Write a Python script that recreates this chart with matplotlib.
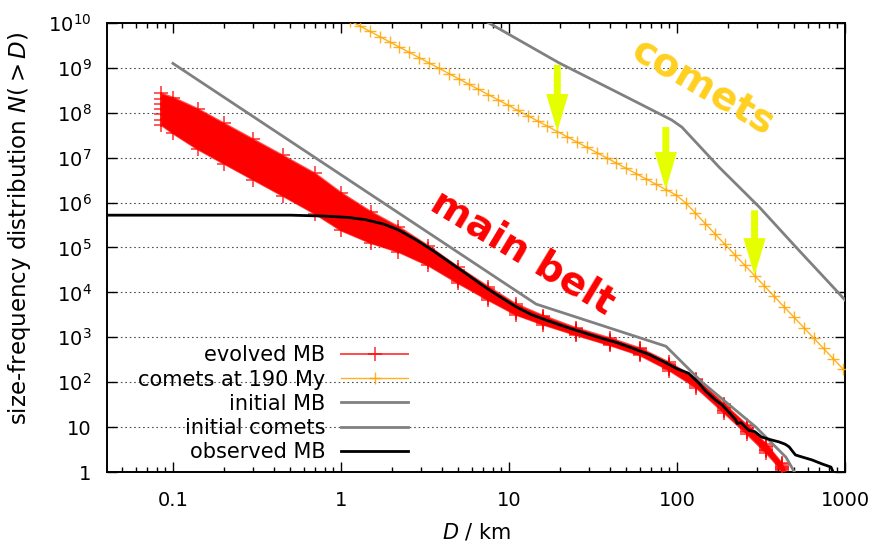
import numpy as np
import matplotlib
matplotlib.use("Agg")
import matplotlib.pyplot as plt
from matplotlib.patches import ArrowStyle

plt.rcParams['font.family'] = ['DejaVu Sans']
plt.rcParams['mathtext.fontset'] = 'dejavusans'

# ---------------- data ----------------
# evolved main belt: several simulation runs, log10 N(>D) on common D grid (km)
ev_D = [0.085, 0.1, 0.14, 0.2, 0.3, 0.45, 0.7, 1.0, 1.5, 2.2, 3.3, 5, 7.5, 11, 16,
        25, 40, 60, 90, 130, 190, 260, 340, 420, 470]
ev_run1 = [8.43, 8.34, 8.09, 7.77, 7.41, 7.05, 6.65, 6.22, 5.80, 5.46, 5.04, 4.56, 4.13, 3.74, 3.48,
           3.21, 2.98, 2.76, 2.44, 2.08, 1.52, 1.05, 0.62, 0.20, -0.22]
ev_run2 = [8.31, 8.20, 7.93, 7.61, 7.25, 6.89, 6.49, 6.07, 5.68, 5.36, 4.96, 4.50, 4.08, 3.70, 3.45,
           3.18, 2.95, 2.73, 2.41, 2.05, 1.49, 1.02, 0.59, 0.17, -0.25]
ev_run3 = [8.19, 8.06, 7.78, 7.46, 7.10, 6.74, 6.34, 5.93, 5.56, 5.26, 4.89, 4.43, 4.02, 3.66, 3.41,
           3.15, 2.92, 2.70, 2.38, 2.01, 1.45, 0.98, 0.55, 0.14, -0.28]
ev_run4 = [8.08, 7.94, 7.64, 7.32, 6.96, 6.60, 6.20, 5.80, 5.45, 5.18, 4.82, 4.38, 3.98, 3.62, 3.38,
           3.13, 2.90, 2.68, 2.35, 1.98, 1.42, 0.95, 0.52, 0.12, -0.30]
ev_run5 = [7.97, 7.82, 7.50, 7.18, 6.82, 6.46, 6.06, 5.67, 5.34, 5.10, 4.75, 4.33, 3.94, 3.58, 3.35,
           3.11, 2.88, 2.66, 2.32, 1.95, 1.39, 0.92, 0.49, 0.10, -0.32]
ev_run6 = [7.85, 7.68, 7.35, 7.03, 6.67, 6.31, 5.91, 5.53, 5.22, 5.00, 4.68, 4.26, 3.88, 3.54, 3.32,
           3.08, 2.85, 2.63, 2.29, 1.92, 1.36, 0.89, 0.46, 0.07, -0.35]
ev_run7 = [7.73, 7.54, 7.19, 6.87, 6.51, 6.15, 5.75, 5.38, 5.10, 4.90, 4.60, 4.20, 3.83, 3.50, 3.28,
           3.05, 2.82, 2.60, 2.26, 1.88, 1.32, 0.85, 0.42, 0.04, -0.38]
ev_runs = [ev_run1, ev_run2, ev_run3, ev_run4, ev_run5, ev_run6, ev_run7]

# comets at 190 My (orange, with markers)
com_D = [1.135, 1.299, 1.487, 1.702, 1.949, 2.230, 2.553, 2.923, 3.346, 3.831, 4.385, 5.020,
         5.746, 6.577, 7.530, 8.619, 9.865, 11.29, 12.93, 14.80, 16.94, 19.39, 22.20, 25.41,
         29.09, 33.30, 38.12, 43.63, 49.95, 57.18, 65.45, 74.92, 85.77, 98.17, 112.4, 128.7,
         147.3, 168.6, 193.0, 220.9, 252.9, 289.5, 331.4, 379.3, 434.2, 497.0, 568.9, 651.3,
         745.6, 853.5, 977.0]
com_logN = [10.048, 9.931, 9.813, 9.696, 9.579, 9.461, 9.344, 9.226, 9.109, 8.992, 8.874, 8.757,
            8.639, 8.522, 8.405, 8.287, 8.170, 8.052, 7.935, 7.818, 7.700, 7.583, 7.465, 7.348,
            7.231, 7.113, 6.996, 6.878, 6.761, 6.644, 6.526, 6.409, 6.291, 6.174, 5.997, 5.765,
            5.533, 5.301, 5.069, 4.837, 4.606, 4.374, 4.142, 3.910, 3.678, 3.446, 3.214, 2.982,
            2.751, 2.519, 2.287]

# initial main belt (grey)
imb_D = [0.1, 14.5, 86, 141, 295, 445, 500]
imb_logN = [9.1, 3.74, 2.8, 2.0, 1.0, 0.33, 0.0]

# initial comets (grey)
ic_D = [3, 7.6, 19.9, 45, 93, 107, 178, 309, 510, 884, 1000]
ic_logN = [10.86, 10.0, 9.11, 8.44, 7.84, 7.68, 6.79, 5.9, 5.01, 4.05, 3.83]

# observed main belt (black)
obs_D = [0.04, 0.5, 0.8, 1.1, 1.4, 1.8, 2.2, 2.8, 3.5, 4.4, 5.5, 7, 8.7, 11, 13.7, 17, 21.8,
         28, 34, 44, 54, 68, 86, 100, 117, 135, 148, 170, 186, 205, 224, 228, 240, 255, 267,
         290, 318, 360, 405, 440, 465, 490, 507, 560, 635, 730, 825, 850]
obs_logN = [5.72, 5.72, 5.70, 5.67, 5.62, 5.52, 5.39, 5.17, 4.94, 4.68, 4.43, 4.15, 3.92, 3.68,
            3.50, 3.37, 3.23, 3.10, 3.00, 2.88, 2.76, 2.62, 2.43, 2.30, 2.20, 1.98, 1.80, 1.60,
            1.49, 1.32, 1.16, 1.08, 1.10, 1.00, 0.93, 0.90, 0.78, 0.72, 0.67, 0.62, 0.56, 0.45,
            0.38, 0.33, 0.27, 0.18, 0.11, 0.0]

# arrows point at these entries of the comet curve
arrow_idx = [21, 32, 41]
arrow_len_pt = [48, 45, 47]

x_ticks = [0.1, 1, 10, 100, 1000]
x_ticklabels = ['0.1', '1', '10', '100', '1000']
y_ticks = [10.0 ** k for k in range(0, 11)]
y_ticklabels = ['1', '10'] + ['$10^{%d}$' % k for k in range(2, 11)]

legend_labels = ['evolved MB', 'comets at 190 My', 'initial MB', 'initial comets', 'observed MB']

# ---------------- figure ----------------
fig = plt.figure(figsize=(8.77, 5.46), dpi=100)
ax = fig.add_axes([107 / 877, 1 - 472 / 546, 738 / 877, 449 / 546])
ax.set_xscale('log')
ax.set_yscale('log')
ax.set_xlim(0.0405, 1000)
ax.set_ylim(1, 1e10)

evD = np.array(ev_D)
ax.fill_between(evD, 10 ** np.array(ev_run7), 10 ** np.array(ev_run1),
                color='#ff0000', lw=0, zorder=2)
h_ev = None
for i, run in enumerate(ev_runs):
    l, = ax.plot(evD, 10 ** np.array(run), color='#ff0000', alpha=0.7, lw=1.4,
                 marker='+', ms=10, mew=1.3, zorder=3,
                 label=legend_labels[0] if i == 0 else None)
    if i == 0:
        h_ev = l

comD = np.array(com_D)
comN = 10 ** np.array(com_logN)
h_com, = ax.plot(comD, comN, color='#ffa500', alpha=0.85, lw=1.0, marker='+', ms=9, mew=1.0,
                 zorder=3, label=legend_labels[1])
h_imb, = ax.plot(imb_D, 10 ** np.array(imb_logN), color='#808080', lw=2.0, zorder=4,
                 label=legend_labels[2])
h_ic, = ax.plot(ic_D, 10 ** np.array(ic_logN), color='#808080', lw=2.0, zorder=4,
                label=legend_labels[3])
h_obs, = ax.plot(obs_D, 10 ** np.array(obs_logN), color='black', lw=2.0, zorder=5,
                 label=legend_labels[4])

# arrows
astyle = ArrowStyle('simple', head_length=2.7, head_width=1.6, tail_width=0.5)
for idx, ln in zip(arrow_idx, arrow_len_pt):
    ax.annotate('', xy=(comD[idx], comN[idx]), xytext=(0, ln), textcoords='offset points',
                arrowprops=dict(arrowstyle=astyle, mutation_scale=10, color='#e6ff00',
                                lw=0, shrinkA=0, shrinkB=0), zorder=6)

# ticks / grid
ax.set_xticks(x_ticks)
ax.set_xticklabels(x_ticklabels)
ax.set_yticks(y_ticks)
ax.set_yticklabels(y_ticklabels)
ax.tick_params(which='both', direction='in', top=True, right=True, width=1.0)
ax.tick_params(which='major', length=7, labelsize=14)
ax.tick_params(which='minor', length=3.5)
ax.tick_params(axis='x', which='major', pad=14)
ax.tick_params(axis='y', which='major', pad=11)
ax.yaxis.grid(True, which='major', linestyle=(0, (1.5, 2.5)), color='#505050', lw=0.8)
ax.set_axisbelow(True)
for s in ax.spines.values():
    s.set_linewidth(1.4)

ax.set_xlabel(r'$\it{D}$ / km', fontsize=15, labelpad=8)
ax.set_ylabel(r'size-frequency distribution $\it{N(>D)}$', fontsize=16.5)
ax.yaxis.set_label_coords((33 - 107) / 738, (472 - 228) / 449)

leg = ax.legend(handles=[h_ev, h_com, h_imb, h_ic, h_obs], labels=legend_labels,
                loc='lower right', bbox_to_anchor=((408 - 107) / 738, 0.022),
                frameon=False, markerfirst=False, fontsize=15, handlelength=3.2,
                handletextpad=0.77, labelspacing=0.2, borderpad=0.0, borderaxespad=0)

fig.text(703 / 877, 1 - 88 / 546, 'comets', color='#ffd020', fontsize=28, fontweight='bold',
         rotation=-30, ha='center', va='center', rotation_mode='anchor')
fig.text(523 / 877, 1 - 252 / 546, 'main belt', color='#ff0000', fontsize=28, fontweight='bold',
         rotation=-31, ha='center', va='center', rotation_mode='anchor')

fig.savefig('out.png', dpi=100)
